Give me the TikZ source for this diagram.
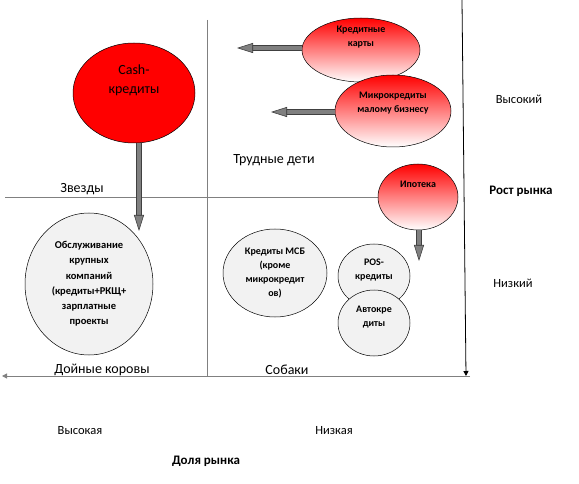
\documentclass[tikz,border=0pt]{standalone}
\usepackage{fontspec}
\setmainfont{Carlito}
\usetikzlibrary{shapes.geometric,arrows.meta,positioning}

\tikzset{
  oval/.style={ellipse,draw=black,line width=0.5pt,inner sep=0pt},
  hot/.style={oval,top color=red,bottom color=white},
  cold/.style={oval,fill=black!5},
  intxt/.style={align=center,font=\fontsize{10}{14.5}\selectfont\bfseries,inner sep=0pt},
  lbl/.style={font=\fontsize{14}{16}\selectfont,inner sep=0pt},
  side/.style={font=\fontsize{12.5}{15}\selectfont,inner sep=0pt},
  barrow/.style={line width=4pt,draw=gray,
    -{Triangle[length=16pt,width=10pt,color=black!75,fill=gray,line width=0.6pt]},
    preaction={draw=black!75,line width=5.2pt,-{},shorten >=15pt}},
  axis/.style={line width=0.8pt,-{Triangle[length=5pt,width=5pt]}}
}

\begin{document}
\begin{tikzpicture}[x=1pt,y=-1pt]
\useasboundingbox (0,0) rectangle (579,484);

% grid
\coordinate (vtop) at (207,20);
\coordinate (vbot) at (207,376);
\coordinate (hleft) at (5,197);
\draw[gray,line width=0.8pt] (vtop) -- (vbot);

% axes
\coordinate (ytop) at (462,0);
\coordinate (yend) at (466,376);
\coordinate (xstart) at (470,376);
\coordinate (xend) at (2,376);
\draw[axis,black] (ytop) -- (yend);
\draw[axis,gray,line width=1pt] (xstart) -- (xend);

% products
\node[oval,fill=red,minimum width=122pt,minimum height=100pt] (cash) at (134,93) {};
\node[intxt,font=\fontsize{14}{19}\selectfont] at ([yshift=13pt]cash.center) {Cash-\\кредиты};

\node[hot,minimum width=118pt,minimum height=64pt] (cards) at (361,50) {};
\node[intxt] at ([yshift=13pt]cards.center) {Кредитные\\карты};

\node[hot,minimum width=116pt,minimum height=72pt] (micro) at (393,111) {};
\node[intxt] at ([yshift=8pt]micro.center) {Микрокредиты\\малому бизнесу};

\draw[gray,line width=0.8pt] (hleft) -- (380,197);
\node[hot,minimum width=80pt,minimum height=66pt] (ipoteka) at (418,197) {};
\node[intxt] at ([yshift=13pt]ipoteka.center) {Ипотека};

\node[cold,minimum width=128pt,minimum height=142pt] (corp) at (89,284) {};
\node[intxt,font=\fontsize{10.5}{15.2}\selectfont\bfseries] at (corp.center)
  {Обслуживание\\крупных\\компаний\\(кредиты+РКЩ+\\зарплатные\\проекты};

\node[cold,minimum width=104pt,minimum height=88pt] (msb) at (275,273) {};
\node[intxt,font=\fontsize{10}{13.8}\selectfont\bfseries] at (msb.center)
  {Кредиты МСБ\\(кроме\\микрокредит\\ов)};

\node[cold,minimum width=72pt,minimum height=64pt] (pos) at (374,276) {};
\node[intxt] at ([yshift=6pt]pos.center) {POS-\\кредиты};

\node[cold,minimum width=72pt,minimum height=66pt] (auto) at (374,323) {};
\node[intxt] at ([yshift=6pt]auto.center) {Автокре\\диты};

% moves
\coordinate (cashtip) at (139,231);
\coordinate (cardstip) at (237,48);
\coordinate (microtip) at (271,112);
\coordinate (ipotekatip) at (419,261);
\draw[barrow] (cash.south -| cashtip) -- (cashtip);
\draw[barrow] (cards.west |- cardstip) -- (cardstip);
\draw[barrow] (micro.west |- microtip) -- (microtip);
\draw[barrow] (ipoteka.south -| ipotekatip) -- (ipotekatip);

% labels
\node[lbl] (stars) at (82,189) {Звезды};
\node[lbl] (problem) at (274,160) {Трудные дети};
\node[lbl] (cows) at (102,370) {Дойные коровы};
\node[lbl] (dogs) at (287,370) {Собаки};
\node[side,font=\fontsize{13}{15}\selectfont\bfseries] (growth) at (521,191) {Рост рынка};
\node[side] (high) at (519,99) {Высокий};
\node[side] (low) at (513,283) {Низкий};
\node[side] (shhigh) at (80,431) {Высокая};
\node[side] (shlow) at (334,431) {Низкая};
\node[side,font=\fontsize{13}{15}\selectfont\bfseries] (share) at (206,461) {Доля рынка};
\end{tikzpicture}
\end{document}
